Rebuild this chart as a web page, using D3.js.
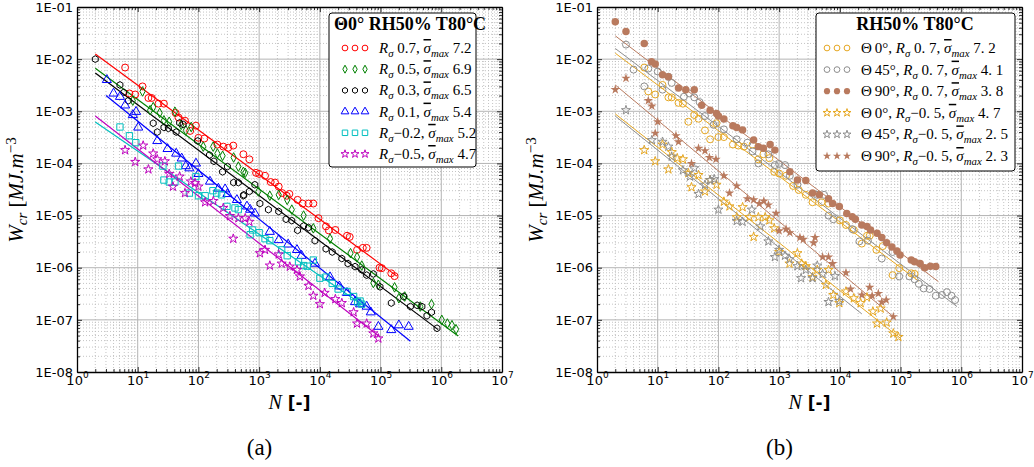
<!DOCTYPE html>
<html><head><meta charset="utf-8">
<script src="https://cdn.jsdelivr.net/npm/d3@7"></script>
<style>body{margin:0;background:#fff}svg{display:block}</style>
</head><body>
<script>
// ---------------- DATA (N, Wcr) ----------------
const xTickExps = [0,1,2,3,4,5,6,7];
const yTickLabels = ["1E-08","1E-07","1E-06","1E-05","1E-04","1E-03","1E-02","1E-01"];

// panel (a): Θ0° RH50% T80°C
const a_R07 = [[6.2,6.9e-3],[12,3.0e-3],[7.3,2.2e-3],[9.1,2.1e-3],[15,1.8e-3],[17,1.8e-3],[22,1.4e-3],[27,1.4e-3],[42,9.3e-4],[47,7.6e-4],[60,6.6e-4],[91,5.3e-4],[73,4.2e-4],[100,3.1e-4],[125,3.0e-4],[205,2.3e-4],[257,2.1e-4],[310,2.0e-4],[375,2.2e-4],[550,1.5e-4],[690,1.2e-4],[890,6.6e-5],[1000,6.3e-5],[1250,5.8e-5],[1550,4.4e-5],[1830,4.3e-5],[2100,3.6e-5],[2400,2.7e-5],[2850,2.4e-5],[3150,2.6e-5],[4300,2.0e-5],[5200,1.7e-5],[6500,1.7e-5],[7800,1.7e-5],[9500,8.9e-6],[1.26e4,6.2e-6],[1.4e4,5.2e-6],[1.8e4,5.3e-6],[2.8e4,4.1e-6],[3.1e4,3.9e-6],[4.1e4,2.2e-6],[5.1e4,2.4e-6],[5.9e4,2.4e-6],[9.6e4,1.0e-6],[1.05e5,9.8e-7],[1.5e5,7.8e-7],[1.7e5,6.9e-7]];
const a_R05 = [[12,2.4e-3],[8.3,1.6e-3],[18,1.2e-3],[16,1.05e-3],[23,9.3e-4],[27,6.7e-4],[33,6.3e-4],[41,9.8e-4],[52,5.5e-4],[62,4.3e-4],[76,5.0e-4],[120,2.1e-4],[175,2.1e-4],[205,1.55e-4],[250,1.4e-4],[380,1.3e-4],[455,8.7e-5],[550,6.9e-5],[590,6.6e-5],[970,2.9e-5],[1500,2.4e-5],[2100,2.5e-5],[2900,2.0e-5],[3450,1.3e-5],[5400,1.0e-5],[7800,5.7e-6],[1.47e4,3.6e-6],[3.2e4,1.9e-6],[4.1e4,1.6e-6],[4.9e4,1.1e-6],[7.6e4,5.1e-7],[9.2e4,4.7e-7],[1.7e5,4.2e-7],[2.0e5,2.6e-7],[2.5e5,2.8e-7],[4.5e5,1.8e-7],[6.9e5,2.0e-7],[1.02e6,1.0e-7],[1.26e6,8.5e-8],[1.5e6,7.9e-8],[1.75e6,6.6e-8]];
const a_R03 = [[2,1.0e-2],[5.1,3.2e-3],[5.9,2.3e-3],[7,1.6e-3],[18,5.9e-4],[21,4.0e-4],[27,4.9e-4],[32,4.7e-4],[43,4.0e-4],[49,6.0e-4],[56,5.6e-4],[97,2.7e-4],[152,1.45e-4],[180,1.1e-4],[250,6.9e-5],[300,8.7e-5],[380,4.3e-5],[455,4.3e-5],[550,2.4e-5],[560,2.5e-5],[690,2.9e-5],[850,3.9e-5],[1030,1.7e-5],[1420,1.3e-5],[2100,1.2e-5],[2770,8.5e-6],[3450,8.0e-6],[4300,5.2e-6],[5400,6.3e-6],[6500,5.9e-6],[8300,3.3e-6],[1.26e4,2.3e-6],[1.6e4,2.0e-6],[2.3e4,1.5e-6],[2.9e4,1.2e-6],[3.8e4,1.05e-6],[4.9e4,9.1e-7],[5.9e4,7.2e-7],[7.6e4,7.6e-7],[9.8e4,4.3e-7],[1.5e5,2.1e-7],[2.4e5,2.8e-7],[3.1e5,1.8e-7],[4.0e5,1.9e-7],[4.8e5,1.8e-7],[5.8e5,1.2e-7],[6.9e5,1.4e-7],[8.5e5,6.9e-8]];
const a_R01 = [[3.1,4.0e-3],[4,2.2e-3],[5.1,1.9e-3],[6.2,1.3e-3],[8.3,8.5e-4],[9.4,9.8e-4],[10.2,4.9e-4],[21,2.7e-4],[31,1.9e-4],[43,1.55e-4],[53,1.25e-4],[62,8.9e-5],[71,8.1e-5],[91,1.0e-4],[100,6.3e-5],[155,4.5e-5],[213,3.3e-5],[275,3.2e-5],[300,2.6e-5],[430,2.0e-5],[630,1.5e-5],[710,1.3e-5],[850,1.1e-5],[1500,4.9e-6],[2100,3.4e-6],[3000,2.8e-6],[4200,2.2e-6],[5000,1.7e-6],[8300,1.2e-6],[1.47e4,6.6e-7],[2.1e4,4.4e-7],[2.8e4,3.3e-7],[3.8e4,2.2e-7],[4.6e4,2.0e-7],[5.9e4,1.8e-7],[6.9e4,1.4e-7],[9.2e4,7.4e-8],[1.5e5,6.4e-8],[2.0e5,7.9e-8],[2.9e5,7.4e-8]];
const a_Rm02 = [[5.1,5.0e-4],[7.3,3.4e-4],[9.3,2.5e-4],[26,8.9e-5],[27,4.8e-5],[33,4.4e-5],[41,4.4e-5],[47,8.9e-5],[91,5.6e-5],[71,2.7e-5],[100,2.4e-5],[129,2.4e-5],[173,3.0e-5],[200,2.7e-5],[240,2.5e-5],[295,1.5e-5],[400,1.4e-5],[455,1.3e-5],[710,4.3e-6],[780,5.3e-6],[1000,4.7e-6],[1250,3.6e-6],[1500,3.3e-6],[2350,2.2e-6],[2900,1.7e-6],[4450,1.3e-6],[5400,1.1e-6],[6200,1.07e-6],[7800,1.4e-6],[1.0e4,6.3e-7],[1.26e4,6.6e-7],[1.6e4,5.0e-7],[2.0e4,3.9e-7],[2.8e4,3.5e-7],[3.6e4,2.8e-7],[4.2e4,2.2e-7],[4.6e4,2.3e-7],[4.9e4,2.0e-7]];
const a_Rm05 = [[6.2,1.8e-4],[9.1,1.07e-4],[12.3,2.2e-4],[15,7.7e-5],[18,1.55e-4],[21,1.2e-4],[28,1.1e-4],[33,6.3e-5],[38,3.6e-5],[49,5.6e-5],[60,2.7e-5],[75,4.5e-5],[88,4.2e-5],[100,3.6e-5],[129,1.8e-5],[176,1.9e-5],[257,1.4e-5],[330,9.8e-6],[375,3.6e-6],[455,8.9e-6],[590,8.9e-6],[690,7.6e-6],[1030,1.9e-6],[1250,2.2e-6],[1500,1.1e-6],[2100,1.8e-6],[2350,1.2e-6],[3200,1.05e-6],[4200,9.1e-7],[4700,6.8e-7],[6500,4.5e-7],[7800,2.9e-7],[1.0e4,2.0e-7],[1.2e4,3.3e-7],[1.8e4,2.5e-7],[2.3e4,2.1e-7],[3.6e4,1.4e-7],[4.1e4,8.5e-8],[5.9e4,8.5e-8],[7.6e4,5.5e-8],[9.2e4,4.4e-8]];
// fitted lines (endpoints)
const a_fitR07 = [[2,1.26e-2],[1.86e5,6.9e-7]];
const a_fitR05 = [[2,6.7e-3],[1.9e6,4.9e-8]];
const a_fitR03 = [[2,5.4e-3],[8.9e5,6.5e-8]];
const a_fitR01 = [[3,2.0e-3],[3.1e5,3.9e-8]];
const a_fitRm02 = [[2,6.2e-4],[5.5e4,1.8e-7]];
const a_fitRm05 = [[2,8.1e-4],[9.8e4,4.7e-8]];
const a_legendRs = ["0.7","0.5","0.3","0.1","−0.2","−0.5"];
const a_legendSmax = ["7.2","6.9","6.5","5.4","5.2","4.7"];

// panel (b): RH50% T80°C
const b_T0_R07 = [[6,6.9e-3],[7,2.4e-3],[9.1,2.1e-3],[12,3.2e-3],[15,1.85e-3],[17,1.85e-3],[22,1.45e-3],[26,1.4e-3],[32,6.3e-4],[40,8.5e-4],[47,7.2e-4],[60,4.3e-4],[73,2.9e-4],[93,5.9e-4],[100,3.2e-4],[123,3.2e-4],[173,2.3e-4],[213,2.2e-4],[263,2.1e-4],[365,2.3e-4],[455,1.2e-4],[550,1.5e-4],[690,1.26e-4],[830,6.9e-5],[1000,6.4e-5],[1300,5.8e-5],[1700,3.7e-5],[2100,3.1e-5],[2750,2.5e-5],[3550,1.8e-5],[5000,1.8e-5],[6500,1.7e-5],[1.0e4,8.1e-6],[1.26e4,6.6e-6],[1.7e4,5.3e-6],[2.3e4,2.9e-6],[2.8e4,4.1e-6],[3.1e4,4.1e-6],[4.0e4,2.2e-6],[5.1e4,2.6e-6],[7.4e4,7.2e-7],[9.5e4,9.8e-7],[1.5e5,7.8e-7],[1.7e5,7.6e-7]];
const b_T45_R07 = [[3,1.9e-2],[4,6.3e-3],[6,3.0e-3],[7,6.6e-3],[10,5.8e-3],[12,2.6e-3],[15,4.6e-3],[17,3.5e-3],[27,1.9e-3],[33,2.2e-3],[40,1.85e-3],[49,1.5e-3],[60,8.1e-4],[83,5.5e-4],[123,4.5e-4],[200,2.9e-4],[300,2.5e-4],[365,1.7e-4],[455,1.0e-4],[665,1.5e-4],[850,9.3e-5],[1000,9.8e-5],[1250,9.3e-5],[1500,5.8e-5],[2000,3.9e-5],[4200,2.5e-5],[5500,2.5e-5],[6500,1.0e-5],[7800,8.5e-6],[1.6e4,5.5e-6],[2.1e4,3.2e-6],[2.9e4,3.3e-6],[4.9e4,1.5e-6],[7.4e4,2.0e-6],[9.5e4,6.8e-7],[1.4e5,6.8e-7],[1.7e5,6.0e-7],[2.0e5,4.9e-7],[2.4e5,4.0e-7],[3.0e5,3.9e-7],[3.8e5,2.9e-7],[4.8e5,3.0e-7],[5.8e5,3.4e-7],[6.9e5,2.9e-7],[7.9e5,2.4e-7]];
const b_T90_R07 = [[2,5.2e-2],[3,3.4e-2],[6,2.0e-2],[7.9,8.9e-3],[9.1,8.1e-3],[12,5.0e-3],[15,4.6e-3],[22,2.8e-3],[29,2.6e-3],[40,2.6e-3],[53,1.3e-3],[73,1.05e-3],[93,9.1e-4],[100,8.1e-4],[123,7.1e-4],[173,5.3e-4],[200,4.9e-4],[250,4.4e-4],[380,2.8e-4],[455,2.1e-4],[550,1.95e-4],[710,2.3e-4],[850,1.8e-4],[1500,6.9e-5],[2000,4.8e-5],[2750,4.7e-5],[3550,2.7e-5],[4600,2.5e-5],[6500,2.1e-5],[7600,1.7e-5],[9800,1.5e-5],[1.3e4,1.1e-5],[1.6e4,9.5e-6],[1.8e4,8.5e-6],[2.3e4,6.6e-6],[2.8e4,6.2e-6],[3.2e4,5.3e-6],[4.1e4,4.6e-6],[4.9e4,3.8e-6],[5.9e4,3.0e-6],[7.2e4,2.5e-6],[8.7e4,2.1e-6],[9.8e4,1.75e-6],[1.5e5,1.4e-6],[1.7e5,1.3e-6],[2.1e5,1.2e-6],[2.5e5,1.0e-6],[3.1e5,1.07e-6],[3.8e5,1.05e-6]];
const b_T0_Rm05 = [[6,1.8e-4],[9.1,1.1e-4],[12,2.3e-4],[15,7.7e-5],[17,1.65e-4],[21,1.26e-4],[26,1.2e-4],[32,6.5e-5],[36,3.5e-5],[47,6.0e-5],[60,2.9e-5],[73,4.8e-5],[93,3.9e-5],[123,1.85e-5],[152,1.5e-5],[200,9.3e-6],[250,1.45e-5],[325,9.3e-6],[380,3.9e-6],[455,9.3e-6],[590,9.3e-6],[690,8.1e-6],[830,5.7e-6],[1000,2.0e-6],[1480,1.2e-6],[2000,1.9e-6],[2350,1.2e-6],[2750,1.07e-6],[3550,6.6e-7],[4250,9.1e-7],[5900,4.7e-7],[6500,9.1e-7],[7800,3.0e-7],[9800,2.1e-7],[1.26e4,3.5e-7],[1.7e4,2.6e-7],[2.2e4,2.1e-7],[2.8e4,2.7e-7],[3.5e4,1.45e-7],[4.1e4,8.5e-8],[4.7e4,1.65e-7],[5.9e4,8.9e-8],[7.6e4,5.5e-8],[9.2e4,4.7e-8]];
const b_T45_Rm05 = [[3,1.05e-3],[8,2.8e-4],[12,2.6e-4],[15,2.1e-4],[17,1.35e-4],[26,7.4e-5],[34,5.6e-5],[40,8.1e-5],[47,2.6e-5],[60,3.9e-5],[73,4.8e-5],[85,5.0e-5],[100,1.3e-5],[200,7.9e-6],[250,7.6e-6],[355,1.3e-5],[490,6.2e-6],[665,3.2e-6],[850,1.6e-6],[1000,2.2e-6],[1250,1.7e-6],[1480,1.45e-6],[2000,1.07e-6],[2300,6.3e-7],[2750,9.1e-7],[3550,6.3e-7],[4250,1.1e-6],[5200,7.6e-7],[6500,2.2e-7],[8300,6.9e-7],[9800,2.3e-7]];
const b_T90_Rm05 = [[2,2.6e-3],[3,4.3e-3],[7,1.6e-3],[8,1.26e-3],[10,6.3e-4],[9.1,3.8e-4],[20,3.4e-4],[22,2.6e-4],[36,1.0e-4],[47,1.95e-4],[60,1.75e-4],[71,1.3e-4],[91,1.2e-4],[123,5.8e-5],[152,2.7e-5],[200,3.7e-5],[300,2.1e-5],[380,2.0e-5],[470,1.7e-5],[560,1.9e-5],[665,1.6e-5],[890,1.1e-5],[1000,5.1e-6],[1300,5.5e-6],[1500,4.7e-6],[2200,3.8e-6],[2500,3.5e-6],[3700,3.0e-6],[3900,3.8e-6],[5200,1.6e-6],[6500,1.6e-6],[7600,1.2e-6],[1.26e4,8.0e-7],[1.5e4,3.9e-7],[2.3e4,3.0e-7],[3.1e4,4.2e-7],[3.4e4,2.9e-7],[4.3e4,3.2e-7],[4.9e4,2.2e-7],[5.8e4,2.4e-7],[7.6e4,1.15e-7]];
const b_fitT0_R07 = [[2,1.3e-2],[2e5,5.5e-7]];
const b_fitT45_R07 = [[2,1.6e-2],[8.5e5,1.8e-7]];
const b_fitT90_R07 = [[2,2.8e-2],[4.2e5,5.4e-7]];
const b_fitT0_Rm05 = [[2,8.9e-4],[9.8e4,4.5e-8]];
const b_fitT45_Rm05 = [[2,8.1e-4],[2.3e4,1.3e-7]];
const b_fitT90_Rm05 = [[2,3.2e-3],[7.6e4,1.15e-7]];
const b_legendTheta = ["0°","45°","90°","0°","45°","90°"];
const b_legendRs = ["0. 7","0. 7","0. 7","−0. 5","−0. 5","−0. 5"];
const b_legendSmax = ["7. 2","4. 1","3. 8","4. 7","2. 5","2. 3"];

// ---------------- DRAWING ----------------
const svg = d3.select("body").append("svg").attr("width",1034).attr("height",467);
const Y0 = 7, Y1 = 372;

const hexPath = (r)=>{const p=d3.path();for(let i=0;i<6;i++){const a=-Math.PI/2+i*Math.PI/3;const px=r*Math.cos(a),py=r*Math.sin(a);i?p.lineTo(px,py):p.moveTo(px,py);}p.closePath();return p.toString();};
const diamondPath = "M0,-4.8L2.6,0L0,4.8L-2.6,0Z";
const sym = {
  circle: d3.symbol(d3.symbolCircle,38)(),
  circleF: d3.symbol(d3.symbolCircle,44)(),
  diamond: diamondPath,
  hex: hexPath(3.4),
  tri: d3.symbol(d3.symbolTriangle,36)(),
  square: d3.symbol(d3.symbolSquare,40)(),
  star: d3.symbol(d3.symbolStar,26)(),
  starF: d3.symbol(d3.symbolStar,28)()
};
const symL = {
  circle: d3.symbol(d3.symbolCircle,26)(),
  circleF: d3.symbol(d3.symbolCircle,30)(),
  diamond: "M0,-4L2.2,0L0,4L-2.2,0Z",
  hex: hexPath(2.9),
  tri: d3.symbol(d3.symbolTriangle,26)(),
  square: d3.symbol(d3.symbolSquare,30)(),
  star: d3.symbol(d3.symbolStar,20)(),
  starF: d3.symbol(d3.symbolStar,22)()
};

function rich(text, parts){
  let cur=0;
  parts.forEach(p=>{
    const off = p.sub?4:(p.sup?-7:0);
    const ts=text.append("tspan").text(p.t).attr("dy",off-cur);
    cur=off;
    if(p.i) ts.attr("font-style","italic");
    if(p.b) ts.attr("font-weight","bold");
    if(p.f) ts.attr("font-family",p.f);
    if(p.o) ts.attr("text-decoration","overline");
    if(p.sub||p.sup) ts.attr("font-size", p.fs||"0.72em");
  });
}

function panel(cfg){
  const x = d3.scaleLog().domain([1,1e7]).range([cfg.x0,cfg.x1]);
  const y = d3.scaleLog().domain([1e-8,1e-1]).range([Y1,Y0]);
  const g = svg.append("g");
  const xMaj = xTickExps.map(e=>Math.pow(10,e));
  const yMaj = yTickLabels.map(s=>+s);
  const xMin=[], yMin=[];
  for(let e=0;e<7;e++) for(let k=2;k<10;k++) xMin.push(k*Math.pow(10,e));
  for(let e=-8;e<-1;e++) for(let k=2;k<10;k++) yMin.push(+(k*Math.pow(10,e)).toPrecision(3));
  // grid
  const grid = g.append("g");
  grid.selectAll(".gxm").data(xMin).join("line").attr("x1",d=>x(d)).attr("x2",d=>x(d)).attr("y1",Y0).attr("y2",Y1)
    .attr("stroke","#bdbdbd").attr("stroke-width",0.9).attr("stroke-dasharray","1,2");
  grid.selectAll(".gym").data(yMin).join("line").attr("y1",d=>y(d)).attr("y2",d=>y(d)).attr("x1",cfg.x0).attr("x2",cfg.x1)
    .attr("stroke","#bdbdbd").attr("stroke-width",0.9).attr("stroke-dasharray","1,2");
  grid.selectAll(".gx").data(xMaj.slice(1,-1)).join("line").attr("x1",d=>x(d)).attr("x2",d=>x(d)).attr("y1",Y0).attr("y2",Y1)
    .attr("stroke","#b4b4b4").attr("stroke-width",1);
  grid.selectAll(".gy").data(yMaj.slice(1,-1)).join("line").attr("y1",d=>y(d)).attr("y2",d=>y(d)).attr("x1",cfg.x0).attr("x2",cfg.x1)
    .attr("stroke","#b4b4b4").attr("stroke-width",1);

  // series
  const line = d3.line().x(d=>x(d[0])).y(d=>y(d[1]));
  cfg.series.forEach(s=>{
    g.append("path").datum(s.fit).attr("d",line).attr("fill","none").attr("stroke",s.lc||s.color).attr("stroke-width",s.lw||1.2);
  });
  cfg.series.forEach(s=>{
    g.append("g").selectAll("path").data(s.data).join("path")
      .attr("transform",d=>`translate(${x(d[0])},${y(d[1])})`)
      .attr("d",sym[s.sym]).attr("fill",s.filled?s.color:"none").attr("stroke",s.filled?"none":s.color).attr("stroke-width",1);
  });

  // axes (inward ticks)
  const axFont = (sel)=>sel.attr("font-family","DejaVu Sans").attr("font-size",13);
  const bottom = g.append("g").attr("transform",`translate(0,${Y1})`)
    .call(d3.axisBottom(x).tickValues(xMaj).tickSizeInner(-5).tickSizeOuter(0).tickPadding(4).tickFormat(""));
  bottom.call(axFont);
  bottom.selectAll(".tick text").each(function(d,i){
    const t=d3.select(this).attr("fill","#000").attr("y",13).attr("dy",null);
    rich(t,[{t:"10"},{t:String(xTickExps[i]),sup:1,fs:9}]);
  });
  g.append("g").attr("transform",`translate(0,${Y1})`).call(d3.axisBottom(x).tickValues(xMin).tickSize(-3).tickFormat("")).select(".domain").remove();
  const left = g.append("g").attr("transform",`translate(${cfg.x0},0)`)
    .call(d3.axisLeft(y).tickValues(yMaj).tickSizeInner(-5).tickSizeOuter(0).tickPadding(4).tickFormat((d,i)=>yTickLabels[i]));
  left.call(axFont); left.selectAll(".tick text").attr("fill","#000");
  g.append("g").attr("transform",`translate(${cfg.x0},0)`).call(d3.axisLeft(y).tickValues(yMin).tickSize(-3).tickFormat("")).select(".domain").remove();
  g.append("g").attr("transform",`translate(0,${Y0})`).call(d3.axisTop(x).tickValues(xMaj).tickSizeInner(-5).tickSizeOuter(0).tickFormat(""));
  g.append("g").attr("transform",`translate(0,${Y0})`).call(d3.axisTop(x).tickValues(xMin).tickSize(-3).tickFormat("")).select(".domain").remove();
  g.append("g").attr("transform",`translate(${cfg.x1},0)`).call(d3.axisRight(y).tickValues(yMaj).tickSizeInner(-5).tickSizeOuter(0).tickFormat(""));
  g.append("g").attr("transform",`translate(${cfg.x1},0)`).call(d3.axisRight(y).tickValues(yMin).tickSize(-3).tickFormat("")).select(".domain").remove();
  g.selectAll(".domain").attr("stroke","#000").attr("stroke-width",1.3);
  g.selectAll(".tick line").attr("stroke","#000").attr("stroke-width",0.8);

  // axis titles
  const xt = g.append("text").attr("x",(cfg.x0+cfg.x1)/2).attr("y",409).attr("text-anchor","middle").attr("font-size",20).attr("font-family","Liberation Serif");
  rich(xt,[{t:"N",i:1},{t:" [-]",b:1,f:"DejaVu Sans"}]);
  xt.select("tspan:nth-child(2)").attr("font-size",17);
  const yt = g.append("text").attr("transform",`translate(${cfg.x0-54},190) rotate(-90)`).attr("text-anchor","middle").attr("font-size",21).attr("font-family","Liberation Serif");
  rich(yt,[{t:"W",i:1},{t:"cr",i:1,sub:1},{t:" [",},{t:"MJ.m",i:1},{t:"−3",sup:1}]);
  g.append("text").attr("x",(cfg.x0+cfg.x1)/2-30).attr("y",455).attr("text-anchor","middle").attr("font-size",23).attr("font-family","Liberation Serif").text(cfg.caption);

  // legend
  const L = cfg.legend;
  g.append("rect").attr("x",L.x).attr("y",L.y).attr("width",L.w).attr("height",L.h).attr("rx",3)
    .attr("fill","#fff").attr("stroke","#000").attr("stroke-width",1);
  const tt = g.append("text").attr("x",L.tx).attr("y",L.y+17).attr("text-anchor",L.tAnchor).attr("font-family","Liberation Serif")
    .attr("font-weight","bold").attr("font-size",18);
  tt.text(L.title);
  cfg.series.forEach((s,i)=>{
    const yy = L.y + 35 + i*L.step;
    [0,1,2].forEach(k=>{
      g.append("path").attr("transform",`translate(${L.mx+k*10},${yy})`).attr("d",symL[s.sym])
        .attr("fill",s.filled?s.color:"none").attr("stroke",s.filled?"none":s.color).attr("stroke-width",1);
    });
    const t = g.append("text").attr("x",L.textX).attr("y",yy+5).attr("font-family","Liberation Serif").attr("font-size",L.fs);
    rich(t, L.entries[i]);
  });
}

const aEntries = a_legendRs.map((r,i)=>[{t:"R",i:1},{t:"σ",i:1,sub:1},{t:(r[0]==="−"?"":" ")+r+", "},{t:"σ",i:1,o:1},{t:"max",i:1,sub:1},{t:" "+a_legendSmax[i]}]);
const bEntries = b_legendTheta.map((th,i)=>[{t:"Θ\u2009"+th+", "},{t:"R",i:1},{t:"σ",i:1,sub:1},{t:(b_legendRs[i][0]==="−"?"":" ")+b_legendRs[i]+", "},{t:"σ",i:1,o:1},{t:"max",i:1,sub:1},{t:" "+b_legendSmax[i]}]);

const GOLD="#e6a722", GRAY="#8e8e8e", BROWN="#b97a5e";

panel({x0:77,x1:502,caption:"(a)",
  series:[
    {data:a_R07,fit:a_fitR07,color:"#ff0000",sym:"circle"},
    {data:a_R05,fit:a_fitR05,color:"#008000",sym:"diamond"},
    {data:a_R03,fit:a_fitR03,color:"#000000",sym:"hex"},
    {data:a_R01,fit:a_fitR01,color:"#0000ff",sym:"tri"},
    {data:a_Rm02,fit:a_fitRm02,color:"#00bfbf",sym:"square"},
    {data:a_Rm05,fit:a_fitRm05,color:"#bf00bf",sym:"star"}
  ],
  legend:{x:329,y:13,w:147,h:154,title:"Θ0° RH50% T80°C",tx:334,tAnchor:"start",mx:345,textX:379,step:21.2,fs:15,entries:aEntries}
});
panel({x0:597,x1:1022,caption:"(b)",
  series:[
    {data:b_T0_R07,fit:b_fitT0_R07,color:GOLD,sym:"circle",lw:1},
    {data:b_T45_R07,fit:b_fitT45_R07,color:GRAY,sym:"circle",lw:1},
    {data:b_T90_R07,fit:b_fitT90_R07,color:BROWN,sym:"circleF",filled:1,lw:1},
    {data:b_T0_Rm05,fit:b_fitT0_Rm05,color:GOLD,sym:"star",lw:1},
    {data:b_T45_Rm05,fit:b_fitT45_Rm05,color:GRAY,sym:"star",lw:1},
    {data:b_T90_Rm05,fit:b_fitT90_Rm05,color:BROWN,sym:"starF",filled:1,lw:1}
  ],
  legend:{x:816,y:13,w:199,h:158,title:"RH50% T80°C",tx:915,tAnchor:"middle",mx:827,textX:861,step:21.6,fs:15,entries:bEntries}
});
</script>
</body></html>
